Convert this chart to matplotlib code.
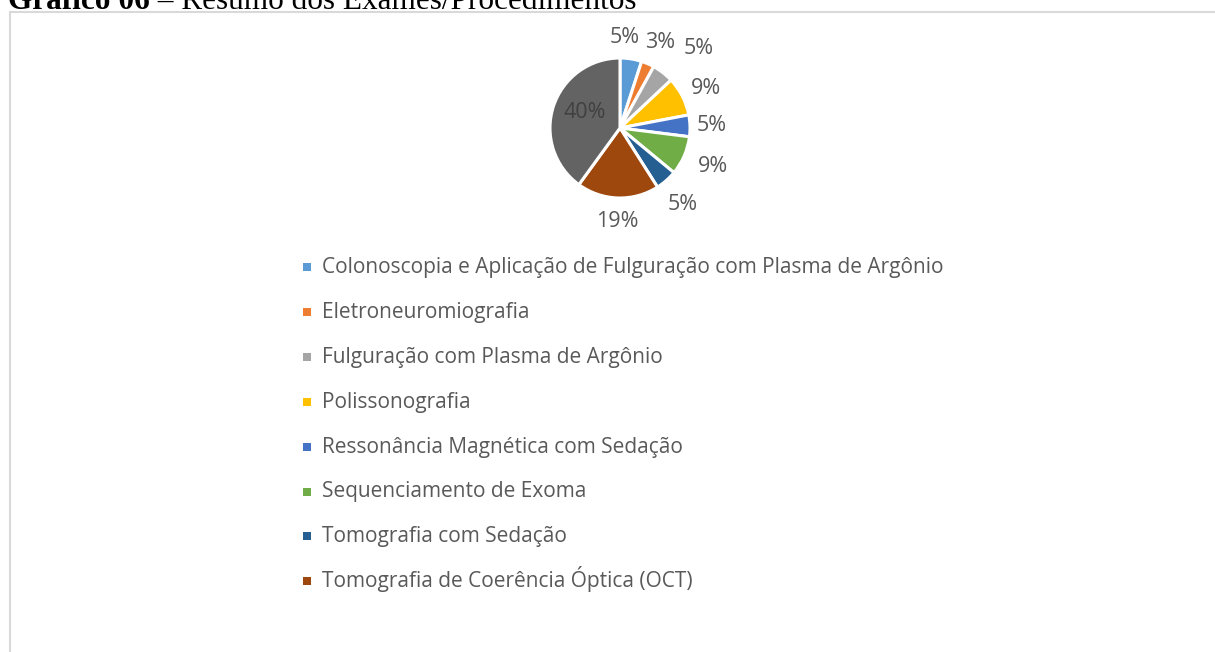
import matplotlib
matplotlib.use("Agg")
import matplotlib.pyplot as plt
from matplotlib.patches import Rectangle
import numpy as np

categories = [
    "Colonoscopia e Aplicação de Fulguração com Plasma de Argônio",
    "Eletroneuromiografia",
    "Fulguração com Plasma de Argônio",
    "Polissonografia",
    "Ressonância Magnética com Sedação",
    "Sequenciamento de Exoma",
    "Tomografia com Sedação",
    "Tomografia de Coerência Óptica (OCT)",
    "Outros",
]
values = [5, 3, 5, 9, 5, 9, 5, 19, 40]
colors = ["#5B9BD5", "#ED7D31", "#A5A5A5", "#FFC000", "#4472C4",
          "#70AD47", "#255E91", "#9E480E", "#636363"]
legend_count = 8

W, H = 1215, 652
fig = plt.figure(figsize=(W / 100, H / 100), dpi=100)
fig.patch.set_facecolor("white")

def fy(py):
    return 1 - py / H

# Chart frame (partly outside the image)
fig.patches.append(Rectangle((10 / W, -0.1), 1.2, fy(12) + 0.1,
                             transform=fig.transFigure, fill=False,
                             edgecolor="#d9d9d9", linewidth=1.5))

# Title (cut off at the top edge, as in the reference)
t1 = fig.text(8 / W, fy(9), "Gráfico 06", fontfamily="Liberation Serif",
              fontweight="bold", fontsize=22.5, va="baseline", ha="left", color="black")
fig.canvas.draw()
bb = t1.get_window_extent()
fig.text(bb.x1 / W, fy(9), " – Resumo dos Exames/Procedimentos",
         fontfamily="Liberation Serif", fontsize=22.5, va="baseline", ha="left", color="black")

# Pie
cx, cy, r = 620, 128, 70
ax = fig.add_axes([(cx - r) / W, fy(cy + r), 2 * r / W, 2 * r / H])
wedges, texts = ax.pie(values, colors=colors, startangle=90, counterclock=False,
                       wedgeprops=dict(edgecolor="white", linewidth=2.2),
                       radius=1.0)
ax.set_xlim(-1, 1)
ax.set_ylim(-1, 1)
ax.set_aspect("auto")
ax.axis("off")

total = sum(values)
cum = 0
label_r = [1.29, 1.35, 1.6, 1.35, 1.31, 1.43, 1.41, 1.34, 0.55]
label_da = [6, -2, -7, -2, 0, 1, -2, 0, -6]
for i, v in enumerate(values):
    mid = 90 - (cum + v / 2) / total * 360 + label_da[i]
    cum += v
    rr = label_r[i]
    x = rr * np.cos(np.radians(mid))
    y = rr * np.sin(np.radians(mid))
    col = "#404040" if i == len(values) - 1 else "#595959"
    ax.text(x, y, f"{v}%", ha="center", va="center", fontsize=15.5,
            fontfamily="Open Sans", color=col, clip_on=False)

# Legend (manual rows)
row0, step = 267, 44.9
for i in range(legend_count):
    yc = row0 + i * step
    fig.patches.append(Rectangle((303 / W, fy(yc + 4)), 8 / W, 8 / H,
                                 transform=fig.transFigure,
                                 facecolor=colors[i], edgecolor="none"))
    fig.text(322 / W, fy(yc + 6), categories[i], fontfamily="Open Sans", fontsize=15,
             color="#595959", va="baseline", ha="left")

fig.savefig("out.png", dpi=100, facecolor="white")
